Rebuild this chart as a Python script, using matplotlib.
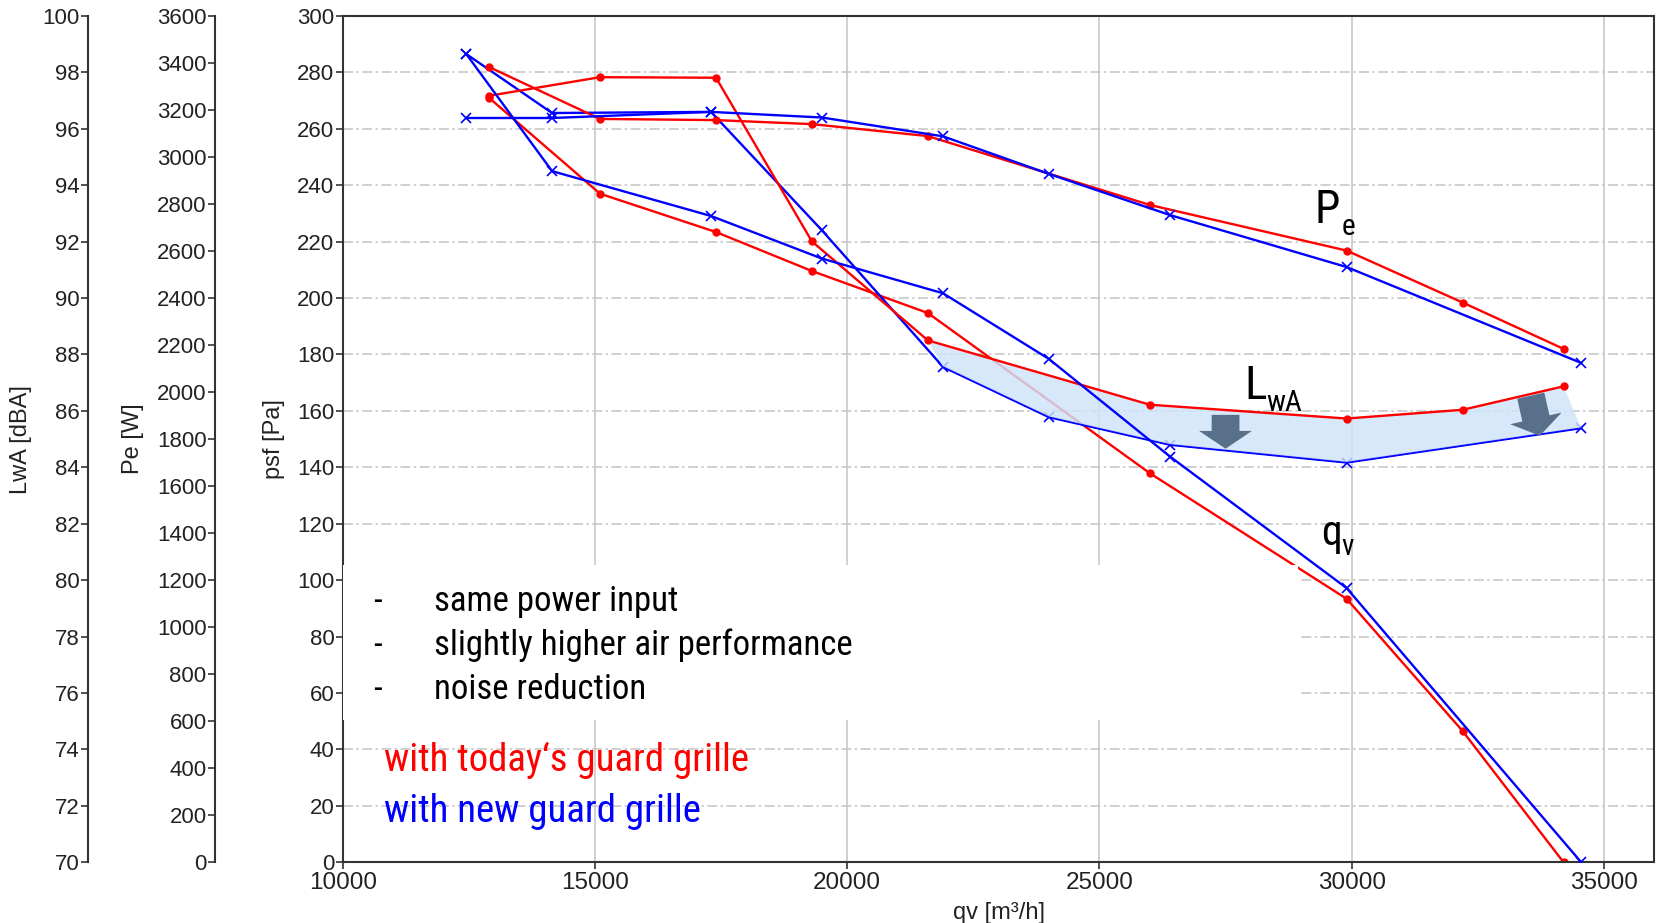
import matplotlib
matplotlib.use('Agg')
import matplotlib.pyplot as plt
from matplotlib.patches import Rectangle

# operating points with today's guard grille (red)
qv_red = [12900, 15100, 17400, 19300, 21600, 26000, 29900, 32200, 34200]
psf_red = [271.0, 237.0, 223.4, 209.6, 194.7, 137.9, 93.4, 46.5, 0.0]
pe_red = [3383, 3162, 3157, 3140, 3089, 2796, 2602, 2381, 2184]
lwa_red = [97.17, 97.83, 97.81, 92.01, 88.50, 86.22, 85.73, 86.04, 86.87]

# operating points with new guard grille (blue)
qv_blue = [12450, 14150, 17300, 19500, 21900, 24000, 26400, 29900, 34550]
psf_blue = [286.5, 245.0, 229.1, 214.0, 201.7, 178.4, 143.8, 97.2, 0.0]
pe_blue = [3166, 3166, 3192, 3168, 3088, 2928, 2753, 2532, 2124]
lwa_blue = [98.65, 96.56, 96.60, 92.40, 87.56, 85.78, 84.80, 84.17, 85.39]

xticks = list(range(10000, 35001, 5000))
psf_ticks = list(range(0, 301, 20))
pe_ticks = list(range(0, 3601, 200))
lwa_ticks = list(range(70, 101, 2))

notes = ['same power input', 'slightly higher air performance', 'noise reduction']

plt.rcParams['font.family'] = ['Liberation Sans', 'DejaVu Sans']
narrow = ['Roboto Condensed', 'Liberation Sans', 'DejaVu Sans']
RED = '#ff0000'
BLUE = '#0000ff'
DARK = '#222222'

fig = plt.figure(figsize=(16.62, 9.23), dpi=100)
ax = fig.add_axes([0.2062, 0.0658, 0.7892, 0.9169])
ax_pe = ax.twinx()
ax_lw = ax.twinx()

ax.set_xlim(10000, 36000)
ax.set_ylim(0, 300)
ax_pe.set_ylim(0, 3600)
ax_lw.set_ylim(70, 100)

# extra y axes on the left
for a, pos in ((ax_pe, -0.0974), (ax_lw, -0.1940)):
    for s in ('right', 'top', 'bottom'):
        a.spines[s].set_visible(False)
    a.spines['left'].set_visible(True)
    a.spines['left'].set_position(('axes', pos))
    a.yaxis.set_ticks_position('left')
    a.yaxis.set_label_position('left')

for a in (ax, ax_pe, ax_lw):
    for s in a.spines.values():
        s.set_linewidth(1.5)
        s.set_color('#333333')
    a.tick_params(axis='y', direction='out', length=5, width=1.2, color='#333333',
                  labelsize=16, labelcolor=DARK, pad=1)
ax.tick_params(axis='x', direction='out', length=5, width=1.2, color='#333333',
               labelsize=17.5, labelcolor=DARK, pad=2)
ax.tick_params(axis='y', right=False)

ax.set_xticks(xticks)
ax.set_yticks(psf_ticks)
ax_pe.set_yticks(pe_ticks)
ax_lw.set_yticks(lwa_ticks)

ax.set_axisbelow(True)
ax.grid(axis='x', color='#c8c8c8', lw=1.2, ls='-')
ax.grid(axis='y', color='#c8c8c8', lw=1.2, ls=(0, (6, 2, 1.5, 2)))

ax.set_xlabel('qv [m³/h]', fontsize=17, color=DARK, labelpad=6)
ax.set_ylabel('psf [Pa]', fontsize=17, color=DARK, va='center')
ax.yaxis.set_label_coords(-0.0524, 0.5)
ax_pe.set_ylabel('Pe [W]', fontsize=17, color=DARK, va='center')
ax_pe.yaxis.set_label_coords(-0.1599, 0.5)
ax_lw.set_ylabel('LwA [dBA]', fontsize=17, color=DARK, va='center')
ax_lw.yaxis.set_label_coords(-0.2453, 0.5)

kw_red = dict(color=RED, lw=1.7, marker='o', ms=5)
kw_blue = dict(color=BLUE, lw=1.7, marker='x', ms=7, mew=1.2)

ax.plot(qv_red, psf_red, zorder=2, **kw_red)
ax.plot(qv_red, pe_red, transform=ax_pe.transData, zorder=5, **kw_red)
ax.plot(qv_red, lwa_red, transform=ax_lw.transData, zorder=5, **kw_red)
ax.plot(qv_blue, psf_blue, zorder=5, **kw_blue)
ax.plot(qv_blue, pe_blue, transform=ax_pe.transData, zorder=5, **kw_blue)
ax.plot(qv_blue, lwa_blue, transform=ax_lw.transData, zorder=2, **kw_blue)

# shaded noise reduction band
band_x = qv_red[4:] + qv_blue[4:][::-1]
band_y = lwa_red[4:] + lwa_blue[4:][::-1]
ax.fill(band_x, band_y, transform=ax_lw.transData, color='#cfe4f9', alpha=0.82,
        lw=0, zorder=3)
ax.plot(qv_blue[4:], lwa_blue[4:], transform=ax_lw.transData, color=BLUE, lw=0.8,
        zorder=4)

arrow = dict(arrowstyle='simple,head_length=0.32,head_width=0.95,tail_width=0.5',
             mutation_scale=40, color='#587089', shrinkA=0, shrinkB=0, lw=0)
ax.annotate('', xy=(27500, 84.66), xytext=(27500, 85.86), xycoords=ax_lw.transData,
            textcoords=ax_lw.transData, arrowprops=arrow, zorder=6)
ax.annotate('', xy=(33730, 85.12), xytext=(33550, 86.54), xycoords=ax_lw.transData,
            textcoords=ax_lw.transData, arrowprops=arrow, zorder=6)

# curve names
ax.text(29261, 226.6, 'P', fontsize=33, family=narrow, va='baseline', zorder=7)
ax.text(29800, 222.4, 'e', fontsize=21, family=narrow, va='baseline', zorder=7)
ax.text(27880, 164.3, 'L', fontsize=34, family=narrow, va='baseline', zorder=7)
ax.text(28300, 160.1, 'wA', fontsize=21, family=narrow, va='baseline', zorder=7)
ax.text(29400, 112.5, 'q', fontsize=30, family=narrow, va='baseline', zorder=7)
ax.text(29800, 109.0, 'v', fontsize=21, family=narrow, va='baseline', zorder=7)

# white text box hiding the grid
ax.add_patch(Rectangle((10000, 50.5), 18930, 55, facecolor='white', edgecolor='none',
                       zorder=4))
for i, t in enumerate(notes):
    y = 88.9 - i * 15.6
    ax.text(10600, y, '-', fontsize=25, family=narrow, va='baseline', zorder=7)
    ax.text(11800, y, t, fontsize=25, family=narrow, va='baseline', zorder=7)

ax.text(10810, 32.5, 'with today\u2018s guard grille', fontsize=28, family=narrow,
        color=RED, va='baseline', zorder=7)
ax.text(10810, 14.4, 'with new guard grille', fontsize=28, family=narrow,
        color=BLUE, va='baseline', zorder=7)

fig.savefig('out.png', dpi=100)
